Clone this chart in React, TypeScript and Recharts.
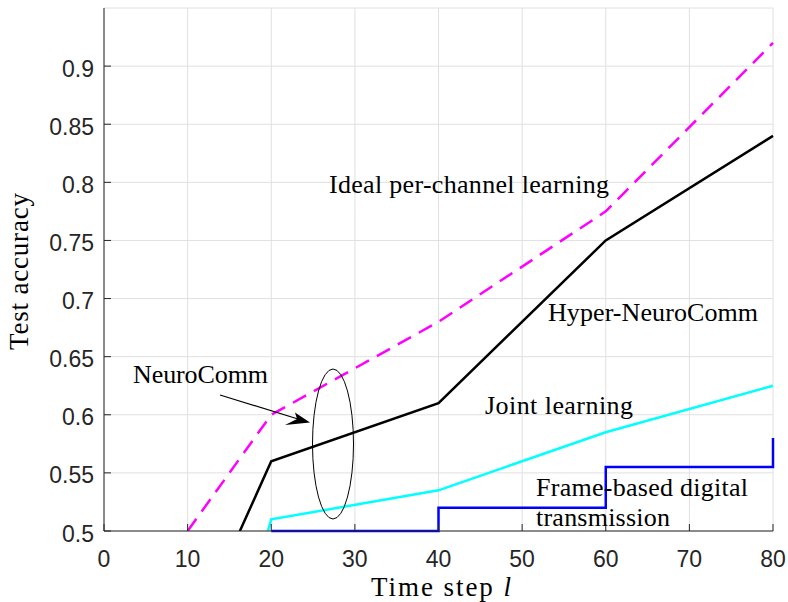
import React from "react";
import { LineChart, Line, XAxis, YAxis, CartesianGrid } from "recharts";

// time steps and test accuracy
const stepTicks = [0, 10, 20, 30, 40, 50, 60, 70, 80];
const accTicks = [0.5, 0.55, 0.6, 0.65, 0.7, 0.75, 0.8, 0.85, 0.9];

const idealSteps = [10, 20, 40, 60, 80];
const idealAcc = [0.5, 0.6, 0.68, 0.775, 0.92];

const hyperSteps = [10, 20, 40, 60, 80];
const hyperAcc = [0.4, 0.56, 0.61, 0.75, 0.84];

const jointSteps = [10, 20, 40, 60, 80];
const jointAcc = [0.26, 0.51, 0.535, 0.585, 0.625];

const frameSteps = [20, 40, 60, 80];
const frameAcc = [0.5, 0.52, 0.555, 0.58];

const zip = (xs: number[], ys: number[]) => xs.map((step, i) => ({ step, acc: ys[i] }));

const AXIS = "#262626";
const SANS = "'Liberation Sans', Arial, sans-serif";
const SERIF = "'Liberation Serif', 'Times New Roman', serif";

const BottomTick = ({ x, y, payload }: any) => (
  <g>
    <line x1={x} x2={x} y1={y} y2={y - 7} stroke={AXIS} />
    <text x={x} y={y + 36} textAnchor="middle" fontSize={23} fontFamily={SANS} fill={AXIS}>
      {payload.value}
    </text>
  </g>
);

const LeftTick = ({ x, y, payload }: any) => (
  <g>
    <line x1={x} x2={x + 7} y1={y} y2={y} stroke={AXIS} />
    <text x={x - 10} y={y + 10.5} textAnchor="end" fontSize={23} fontFamily={SANS} fill={AXIS}>
      {String(payload.value)}
    </text>
  </g>
);

const TopTick = ({ x, y }: any) => <line x1={x} x2={x} y1={y} y2={y + 7} stroke={AXIS} />;
const RightTick = ({ x, y }: any) => <line x1={x - 7} x2={x} y1={y} y2={y} stroke={AXIS} />;

export default function App() {
  return (
    <div style={{ position: "absolute", left: 0, top: 0, width: 788, height: 602, background: "#fff" }}>
      <LineChart width={788} height={602} margin={{ top: 8, right: 15, left: 0, bottom: 0 }}>
        <CartesianGrid xAxisId="b" yAxisId="l" stroke="#e0e0e0" strokeWidth={1} />
        <XAxis
          xAxisId="b"
          dataKey="step"
          type="number"
          domain={[0, 80]}
          ticks={stepTicks}
          height={71}
          tickSize={0}
          tickMargin={0}
          tick={<BottomTick />}
          axisLine={{ stroke: AXIS }}
          tickLine={false}
          allowDuplicatedCategory={false}
        />
        <XAxis
          xAxisId="t"
          orientation="top"
          dataKey="step"
          type="number"
          domain={[0, 80]}
          ticks={stepTicks}
          height={0}
          tickSize={0}
          tickMargin={0}
          tick={<TopTick />}
          axisLine={{ stroke: AXIS }}
          tickLine={false}
        />
        <YAxis
          yAxisId="l"
          type="number"
          domain={[0.5, 0.95]}
          ticks={accTicks}
          allowDataOverflow
          width={104}
          tickSize={0}
          tickMargin={0}
          tick={<LeftTick />}
          axisLine={{ stroke: AXIS }}
          tickLine={false}
        />
        <YAxis
          yAxisId="r"
          orientation="right"
          type="number"
          domain={[0.5, 0.95]}
          ticks={accTicks}
          width={0}
          tickSize={0}
          tickMargin={0}
          tick={<RightTick />}
          axisLine={{ stroke: AXIS }}
          tickLine={false}
        />
        <Line
          xAxisId="b"
          yAxisId="l"
          data={zip(idealSteps, idealAcc)}
          dataKey="acc"
          type="linear"
          stroke="#ff00ff"
          strokeWidth={2.5}
          strokeDasharray="15 9"
          dot={false}
          isAnimationActive={false}
        />
        <Line
          xAxisId="b"
          yAxisId="l"
          data={zip(hyperSteps, hyperAcc)}
          dataKey="acc"
          type="linear"
          stroke="#000000"
          strokeWidth={2.5}
          dot={false}
          isAnimationActive={false}
        />
        <Line
          xAxisId="b"
          yAxisId="l"
          data={zip(jointSteps, jointAcc)}
          dataKey="acc"
          type="linear"
          stroke="#00ffff"
          strokeWidth={2.5}
          dot={false}
          isAnimationActive={false}
        />
        <Line
          xAxisId="b"
          yAxisId="r"
          data={zip(frameSteps, frameAcc)}
          dataKey="acc"
          type="stepAfter"
          stroke="#0000ff"
          strokeWidth={2.5}
          dot={false}
          isAnimationActive={false}
        />
      </LineChart>
      <svg
        width={788}
        height={602}
        style={{ position: "absolute", left: 0, top: 0, pointerEvents: "none" }}
      >
        <g fontFamily={SERIF} fontSize={26} fill="#000">
          <text x={329} y={193} textLength={280} lengthAdjust="spacing">Ideal per-channel learning</text>
          <text x={548} y={321} textLength={210} lengthAdjust="spacing">Hyper-NeuroComm</text>
          <text x={133} y={383} textLength={135} lengthAdjust="spacing">NeuroComm</text>
          <text x={485} y={414} textLength={148} lengthAdjust="spacing">Joint learning</text>
          <text x={536} y={496} textLength={212} lengthAdjust="spacing">Frame-based digital</text>
          <text x={536} y={526} textLength={134} lengthAdjust="spacing">transmission</text>
        </g>
        <ellipse cx={333} cy={444} rx={20.5} ry={75} fill="none" stroke="#000" strokeWidth={1} />
        <line x1={220} y1={395} x2={298} y2={419} stroke="#000" strokeWidth={1.2} />
        <polygon points="310,422.5 295,412.5 297,419 285,425" fill="#000" />
        <g fontFamily={SERIF} fill="#000">
          <text x={371} y={596} fontSize={27} textLength={140} lengthAdjust="spacing">
            Time step <tspan fontStyle="italic">l</tspan>
          </text>
          <text
            x={27.5}
            y={271.5}
            fontSize={27}
            textAnchor="middle"
            textLength={157}
            lengthAdjust="spacing"
            transform="rotate(-90, 27.5, 271.5)"
          >
            Test accuracy
          </text>
        </g>
      </svg>
    </div>
  );
}
